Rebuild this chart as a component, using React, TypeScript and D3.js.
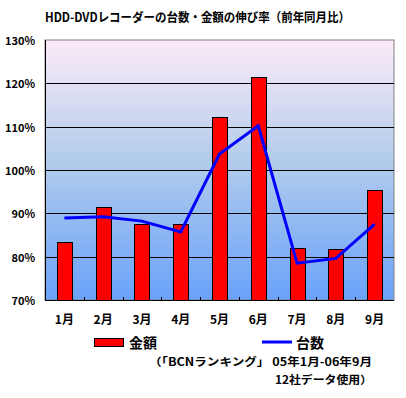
import { useEffect, useRef } from "react";
import * as d3 from "d3";

const months = ["1月", "2月", "3月", "4月", "5月", "6月", "7月", "8月", "9月"];
const amountValues = [83.3, 91.4, 87.5, 87.5, 112.2, 121.4, 81.9, 81.7, 95.3];
const unitValues = [88.9, 89.2, 88.2, 85.7, 103.7, 110.2, 78.5, 79.6, 87.5];
const yTicks = [70, 80, 90, 100, 110, 120, 130];

const FONT = "'Noto Sans CJK JP', 'Noto Sans', sans-serif";

export default function App() {
  const svgRef = useRef<SVGSVGElement>(null);

  useEffect(() => {
    if (!svgRef.current) return;
    const svg = d3.select(svgRef.current);
    svg.selectAll("*").remove();

    const left = 45;
    const right = 394;
    const top = 40;
    const bottom = 300;

    const x = d3.scaleBand().domain(months).range([left, right]);
    const y = d3.scaleLinear().domain([70, 130]).range([bottom, top]);

    // background gradient
    const defs = svg.append("defs");
    const grad = defs
      .append("linearGradient")
      .attr("id", "bg")
      .attr("x1", 0)
      .attr("y1", 0)
      .attr("x2", 0)
      .attr("y2", 1);
    grad.append("stop").attr("offset", "0%").attr("stop-color", "#fcebf8");
    grad.append("stop").attr("offset", "45%").attr("stop-color", "#b4cdec");
    grad.append("stop").attr("offset", "100%").attr("stop-color", "#6aa2fa");

    svg
      .append("rect")
      .attr("x", left)
      .attr("y", top)
      .attr("width", right - left)
      .attr("height", bottom - top)
      .attr("fill", "url(#bg)")
      .attr("stroke", "#808080")
      .attr("stroke-width", 1);

    // gridlines
    svg
      .selectAll("line.grid")
      .data(yTicks.filter((t) => t > 70 && t < 130))
      .join("line")
      .attr("class", "grid")
      .attr("x1", left)
      .attr("x2", right)
      .attr("y1", (d) => Math.round(y(d)) + 0.5)
      .attr("y2", (d) => Math.round(y(d)) + 0.5)
      .attr("stroke", "#000")
      .attr("stroke-width", 1);

    // axes lines
    svg
      .append("line")
      .attr("x1", left + 0.5)
      .attr("x2", left + 0.5)
      .attr("y1", top)
      .attr("y2", bottom)
      .attr("stroke", "#000");
    svg
      .append("line")
      .attr("x1", left)
      .attr("x2", right)
      .attr("y1", bottom + 0.5)
      .attr("y2", bottom + 0.5)
      .attr("stroke", "#000");

    // category ticks (inward)
    svg
      .selectAll("line.tick")
      .data(months.slice(1))
      .join("line")
      .attr("class", "tick")
      .attr("x1", (d) => Math.round(x(d)!) + 0.5)
      .attr("x2", (d) => Math.round(x(d)!) + 0.5)
      .attr("y1", bottom - 3)
      .attr("y2", bottom)
      .attr("stroke", "#000");

    // bars
    const bw = 15;
    svg
      .selectAll("rect.bar")
      .data(amountValues)
      .join("rect")
      .attr("class", "bar")
      .attr("x", (_, i) => Math.round(x(months[i])! + x.bandwidth() / 2 - bw / 2) + 0.5)
      .attr("y", (d) => Math.round(y(d)) + 0.5)
      .attr("width", bw)
      .attr("height", (d) => bottom - Math.round(y(d)))
      .attr("fill", "#ff0000")
      .attr("stroke", "#000")
      .attr("stroke-width", 1);

    // line
    const line = d3
      .line<number>()
      .x((_, i) => x(months[i])! + x.bandwidth() / 2)
      .y((d) => y(d));
    svg
      .append("path")
      .datum(unitValues)
      .attr("d", line)
      .attr("fill", "none")
      .attr("stroke", "#0000ff")
      .attr("stroke-width", 3);

    // y labels
    svg
      .selectAll("text.ylab")
      .data(yTicks)
      .join("text")
      .attr("class", "ylab")
      .attr("x", 35)
      .attr("y", (d) => y(d))
      .attr("text-anchor", "end")
      .attr("dominant-baseline", "central")
      .attr("font-family", FONT)
      .attr("font-weight", "bold")
      .attr("font-size", "11px")
      .text((d) => `${d}%`);

    // x labels
    svg
      .selectAll("text.xlab")
      .data(months)
      .join("text")
      .attr("class", "xlab")
      .attr("x", (d) => x(d)! + x.bandwidth() / 2)
      .attr("y", 318)
      .attr("text-anchor", "middle")
      .attr("dominant-baseline", "central")
      .attr("font-family", FONT)
      .attr("font-weight", "bold")
      .attr("font-size", "12px")
      .text((d) => d);

    // title
    svg
      .append("text")
      .attr("x", 45)
      .attr("y", 16)
      .attr("dominant-baseline", "central")
      .attr("font-family", FONT)
      .attr("font-weight", "bold")
      .attr("font-size", "12.5px")
      .attr("textLength", 305)
      .attr("lengthAdjust", "spacingAndGlyphs")
      .text("HDD-DVDレコーダーの台数・金額の伸び率（前年同月比）");

    // legend
    svg
      .append("rect")
      .attr("x", 94.5)
      .attr("y", 338.5)
      .attr("width", 29)
      .attr("height", 8)
      .attr("fill", "#ff0000")
      .attr("stroke", "#000");
    svg
      .append("text")
      .attr("x", 129)
      .attr("y", 342)
      .attr("dominant-baseline", "central")
      .attr("font-family", FONT)
      .attr("font-weight", "bold")
      .attr("font-size", "14px")
      .text("金額");
    svg
      .append("line")
      .attr("x1", 262)
      .attr("x2", 292)
      .attr("y1", 342)
      .attr("y2", 342)
      .attr("stroke", "#0000ff")
      .attr("stroke-width", 3);
    svg
      .append("text")
      .attr("x", 296)
      .attr("y", 342)
      .attr("dominant-baseline", "central")
      .attr("font-family", FONT)
      .attr("font-weight", "bold")
      .attr("font-size", "14px")
      .text("台数");

    svg
      .append("text")
      .attr("x", 149)
      .attr("y", 361)
      .attr("dominant-baseline", "central")
      .attr("font-family", FONT)
      .attr("font-weight", "bold")
      .attr("font-size", "11px")
      .attr("textLength", 223)
      .attr("lengthAdjust", "spacingAndGlyphs")
      .text("（「BCNランキング」 05年1月-06年9月");
    svg
      .append("text")
      .attr("x", 275)
      .attr("y", 379)
      .attr("dominant-baseline", "central")
      .attr("font-family", FONT)
      .attr("font-weight", "bold")
      .attr("font-size", "11px")
      .attr("textLength", 97)
      .attr("lengthAdjust", "spacingAndGlyphs")
      .text("12社データ使用）");
  }, []);

  return (
    <svg
      ref={svgRef}
      width={406}
      height={398}
      style={{ position: "absolute", left: 0, top: 0, background: "#fff" }}
    />
  );
}
